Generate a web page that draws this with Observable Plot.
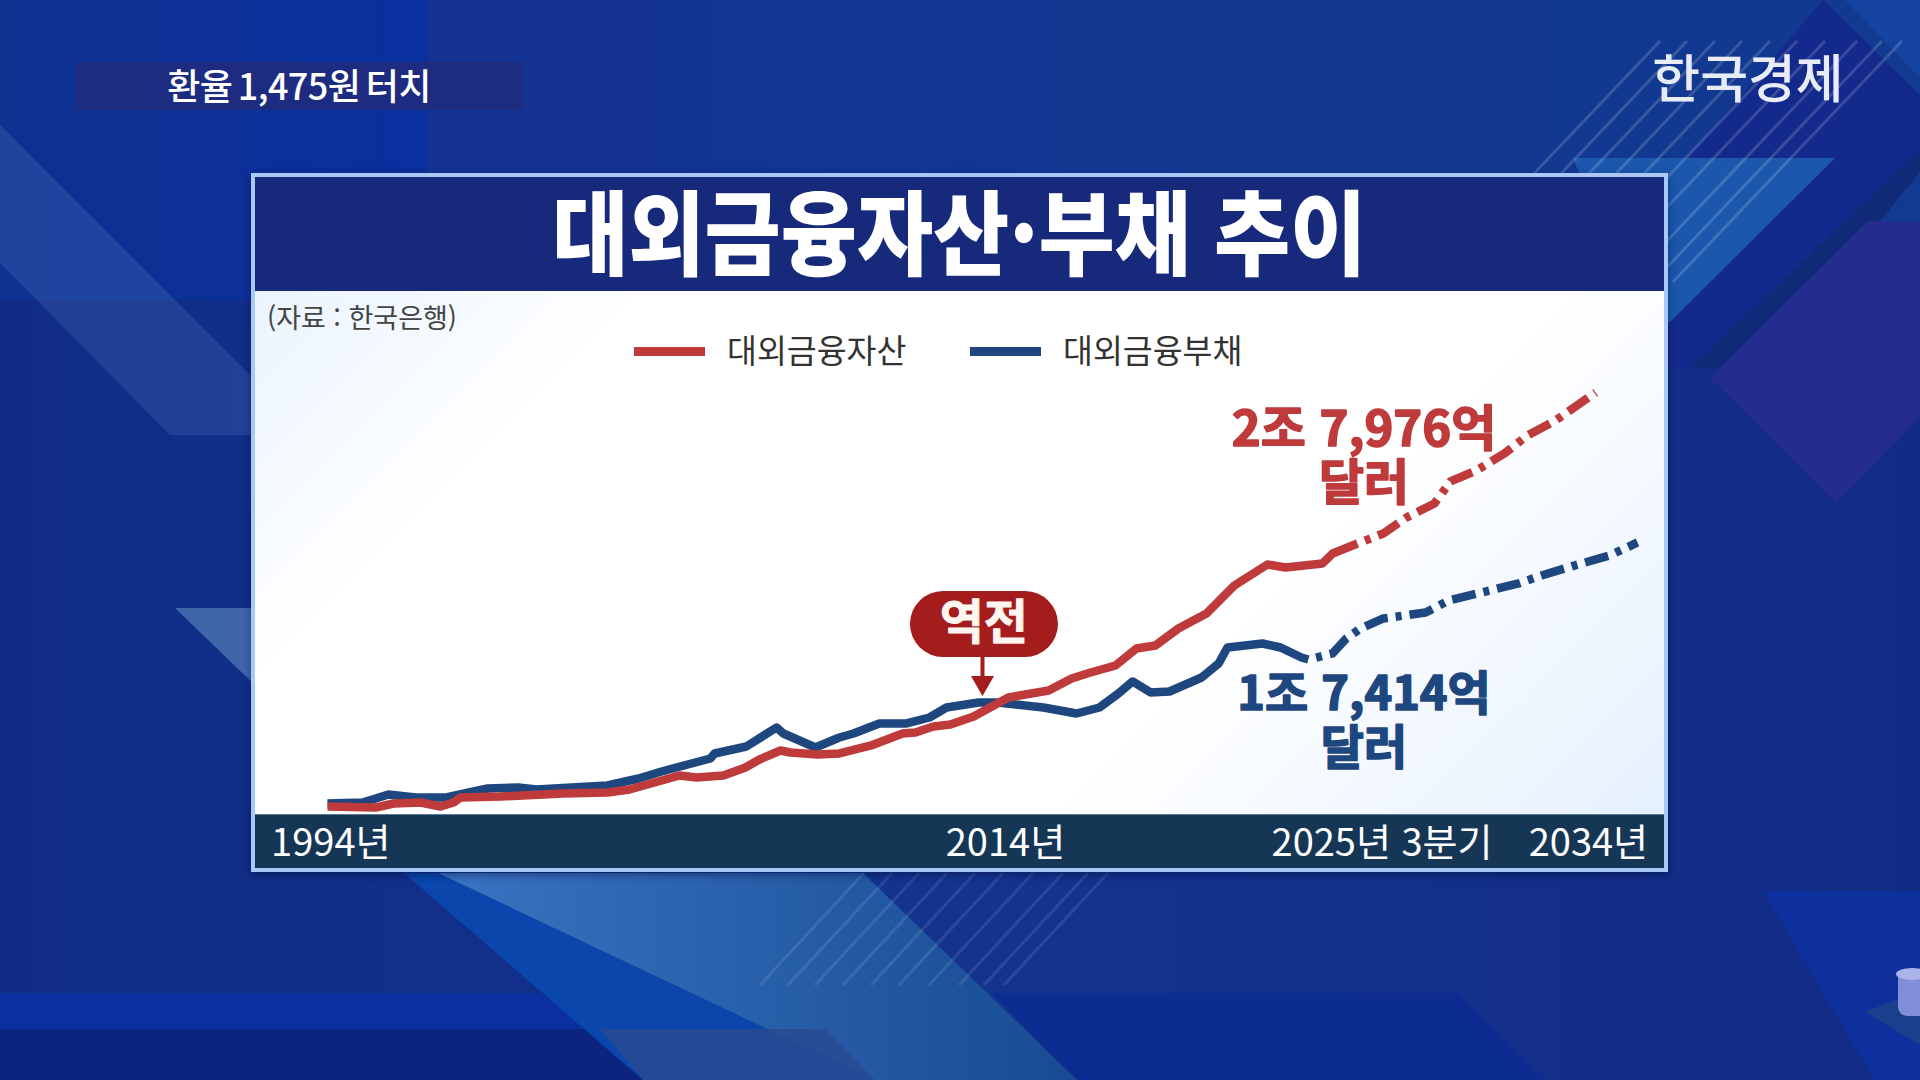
<!DOCTYPE html>
<html lang="ko">
<head>
<meta charset="utf-8">
<title>대외금융자산·부채 추이</title>
<script src="https://cdn.jsdelivr.net/npm/d3@7"></script>
<script src="https://cdn.jsdelivr.net/npm/@observablehq/plot@0.6"></script>
<style>
  html,body{margin:0;padding:0;background:#122d87;font-family:"Noto Sans CJK KR","Noto Sans",sans-serif;}
  #stage{position:relative;width:1920px;height:1080px;overflow:hidden;}
  #stage>*{position:absolute;}
  #bg{left:0;top:0;}
  #topbar{left:75px;top:62px;width:448px;height:48px;background:#1d2b80;color:#fff;font-size:36px;font-weight:500;line-height:45px;text-align:center;white-space:nowrap;letter-spacing:-.6px;word-spacing:-4px;}
  #logo{left:1648px;top:41px;width:200px;color:#e8ecf8;font-size:52px;font-weight:500;line-height:70px;text-align:center;white-space:nowrap;}
  #panel{left:251px;top:173px;width:1409px;height:691px;border:4px solid #a9c9f4;background:linear-gradient(135deg,#e4f0ff 0,#ffffff 24%,#ffffff 68%,#e3efff 100%);box-shadow:0 3px 8px rgba(0,10,60,.45);}
  #titleband{position:absolute;left:0;top:0;width:100%;height:114px;background:#17297a;color:#fff;text-align:center;}
  #titleband span{display:inline-block;font-size:92px;font-weight:900;line-height:102px;transform:scaleX(.9);white-space:nowrap;}
  #axisband{position:absolute;left:0;bottom:0;width:100%;height:54px;background:#163655;border-top:1px solid #5d7a96;box-sizing:border-box;}
  #source{position:absolute;left:12px;top:123px;color:#444;font-size:27px;line-height:34px;white-space:nowrap;}
  .swatch{position:absolute;top:170px;width:71px;height:9px;}
  .legendtext{position:absolute;top:150px;color:#333;font-size:32.5px;line-height:44px;white-space:nowrap;}
  #chart{left:255px;top:291px;}
  #chart svg{display:block;font-family:"Noto Sans CJK KR","Noto Sans",sans-serif;}
</style>
</head>
<body>
<div id="stage">
  <svg id="bg" width="1920" height="1080" viewBox="0 0 1920 1080">
    <defs>
      <linearGradient id="base" x1="0" y1="0" x2="1" y2="0">
        <stop offset="0" stop-color="#102c86"/><stop offset=".5" stop-color="#14338f"/><stop offset="1" stop-color="#122c86"/>
      </linearGradient>
      <linearGradient id="top" x1="0" y1="0" x2="1" y2="0">
        <stop offset="0" stop-color="#153392"/><stop offset="1" stop-color="#113a90"/>
      </linearGradient>
      <linearGradient id="leftTop" x1="0" y1="0" x2="1" y2="0">
        <stop offset="0" stop-color="#0f3190"/><stop offset="1" stop-color="#0a2f9f"/>
      </linearGradient>
      <linearGradient id="beam" x1="0" y1="0" x2="1" y2="0">
        <stop offset="0" stop-color="#3a73c2"/><stop offset="1" stop-color="#174c92"/>
      </linearGradient>
    </defs>
    <rect width="1920" height="1080" fill="url(#base)"/>
    <rect x="427" y="0" width="1493" height="300" fill="url(#top)"/>
    <rect x="0" y="0" width="427" height="300" fill="url(#leftTop)"/>
    <polygon points="0,125 260,385 260,435 170,435 0,263" fill="#7fa6e0" opacity=".16"/>
    <polygon points="175,608 260,608 260,690" fill="#3f66aa"/>
    <!-- top right -->
    <polygon points="1823,0 1920,95 1920,150 1690,368 1668,368 1668,180" fill="#13298c"/>
    <polygon points="1573,158 1835,158 1670,322 1640,322" fill="#1a57ad"/>
    <polygon points="1920,150 1920,172 1760,368 1690,368" fill="#102a78"/>
    <polygon points="1868,221 1920,221 1920,417 1836,503 1710,378" fill="#252c8f"/>
    <polygon points="1845,0 1920,0 1920,78" fill="#1544a0"/>
    <g stroke="#ffffff" stroke-opacity=".16" stroke-width="3">
      <line x1="1660" y1="41" x2="1431" y2="282"/><line x1="1687" y1="41" x2="1458" y2="282"/>
      <line x1="1715" y1="41" x2="1486" y2="282"/><line x1="1742" y1="41" x2="1513" y2="282"/>
      <line x1="1770" y1="41" x2="1541" y2="282"/><line x1="1797" y1="41" x2="1568" y2="282"/>
      <line x1="1825" y1="41" x2="1596" y2="282"/><line x1="1857" y1="41" x2="1628" y2="282"/>
      <line x1="1882" y1="41" x2="1653" y2="282"/><line x1="1902" y1="41" x2="1673" y2="282"/>
    </g>
    <!-- bottom -->
    <rect x="0" y="993" width="640" height="36" fill="#0b2f9e"/>
    <rect x="0" y="1029" width="826" height="51" fill="#0c2480"/>
    <polygon points="992,993 1457,993 1543,1080 1077,1080" fill="#0d2c92"/>
    <polygon points="1763,891 1920,891 1920,1080 1874,1080" fill="#0d309c"/>
    <polygon points="404,873 438,873 875,1080 643,1080" fill="#0a46ac"/>
    <polygon points="438,873 863,873 1077,1080 875,1080" fill="url(#beam)"/>
    <polygon points="600,1029 826,1029 875,1080 643,1080" fill="#2a4a90" opacity=".8"/>
    <g stroke="#ffffff" stroke-opacity=".1" stroke-width="3">
      <line x1="864" y1="873" x2="760" y2="985"/><line x1="892" y1="873" x2="788" y2="985"/>
      <line x1="919" y1="873" x2="815" y2="985"/><line x1="947" y1="873" x2="843" y2="985"/>
      <line x1="975" y1="873" x2="871" y2="985"/><line x1="1003" y1="873" x2="899" y2="985"/>
      <line x1="1033" y1="873" x2="929" y2="985"/><line x1="1063" y1="873" x2="959" y2="985"/>
      <line x1="1088" y1="873" x2="984" y2="985"/><line x1="1108" y1="873" x2="1004" y2="985"/>
    </g>
    <!-- corner ornament -->
    <polygon points="1865,1012 1920,990 1920,1045" fill="#1b3f8c"/>
    <rect x="1898" y="970" width="30" height="46" rx="9" fill="#7f8ed6"/>
    <ellipse cx="1912" cy="974" rx="16" ry="6" fill="#aab4ea"/>
  </svg>

  <div id="topbar">환율 1,475원 터치</div>
  <div id="logo">한국경제</div>

  <div id="panel">
    <div id="titleband"><span>대외금융자산·부채 추이</span></div>
    <div id="axisband"></div>
    <div id="source">(자료 : 한국은행)</div>
    <div class="swatch" style="left:379px;background:#bf3a3b"></div>
    <div class="legendtext" style="left:472px">대외금융자산</div>
    <div class="swatch" style="left:715px;background:#1e4780"></div>
    <div class="legendtext" style="left:808px">대외금융부채</div>
  </div>
  <div id="chart"></div>
</div>

<script>
const assetYears = [1994.0,1995.47,1996.02,1996.84,1997.45,1997.85,1998.06,1999.28,2001.19,2002.55,2003.22,2004.75,2005.27,2006.09,2006.76,2007.19,2007.83,2008.14,2008.96,2009.63,2010.6,2011.56,2011.95,2012.5,2013.02,2013.73,2014.79,2016.02,2016.72,2017.3,2018.06,2018.7,2019.28,2019.98,2020.84,2021.69,2022.7,2023.25,2024.38,2024.69,2025.45];
const assetValues = [4034,3943,4307,4398,4034,4398,4853,4944,5217,5308,5581,6856,6674,6856,7585,8313,9132,8950,8768,8859,9588,10680,10771,11317,11500,12228,13958,14595,15688,16234,16872,18419,18693,20240,21606,24155,26068,25794,26159,27069,27979];
const assetForecastYears = [2025.45,2026.24,2026.95,2027.8,2028.29,2029.08,2029.94,2030.64,2031.5,2032.72];
const assetForecastValues = [27979,28890,30347,31622,33625,34626,36174,37813,39179,41728];

const liabilityYears = [1994.0,1995.07,1995.47,1995.86,1996.69,1997.63,1998.18,1998.89,1999.83,2000.38,2001.45,2002.55,2003.5,2004.2,2005.69,2005.82,2006.79,2007.71,2007.92,2008.9,2009.63,2010.06,2010.85,2011.68,2012.38,2012.9,2013.88,2014.46,2015.86,2016.87,2017.57,2018.15,2018.58,2019.13,2019.71,2020.69,2021.21,2021.48,2022.55,2023.1,2023.74,2023.95];
const liabilityValues = [4307,4398,4762,5126,4853,4853,5217,5672,5763,5581,5763,5946,6583,7220,8404,8859,9497,11226,10680,9405,10316,10680,11591,11591,12137,13047,13503,13503,13047,12501,13047,14322,15415,14413,14504,15779,17054,18510,18875,18510,17600,17418];
const liabilityForecastYears = [2023.95,2024.69,2025.11,2025.54,2026.24,2027.53,2028.23,2029.24,2030.37,2031.07,2032.08,2033.15,2034.0];
const liabilityForecastValues = [17418,17964,19330,20240,21151,21697,22790,23518,24338,25066,25977,26887,28071];

const tickYears = [1994.1,2014.7,2026.2,2032.5];
const tickLabels = ["1994년","2014년","2025년 3분기","2034년"];

const assetLabel = "2조 7,976억\n달러";
const liabilityLabel = "1조 7,414억\n달러";
const crossLabel = "역전";
const crossYear = 2014;

const rows = (xs, ys) => xs.map((year, i) => ({year, value: ys[i]}));
const RED = "#bf3a3b", BLUE = "#1e4780", PILL = "#a51c1c";
const DASH = "24,8,6,8";
const lineStyle = {x: "year", y: "value", strokeWidth: 8.5, strokeLinejoin: "round", strokeLinecap: "butt"};

const chart = Plot.plot({
  width: 1409, height: 577,
  marginTop: 0, marginRight: 0, marginBottom: 54, marginLeft: 0,
  x: {domain: [1994, 2034], range: [72, 1382], axis: null},
  y: {domain: [0, 50000], range: [559.3, 10.1], axis: null},
  style: {background: "transparent", color: "#ffffff", fontFamily: '"Noto Sans CJK KR","Noto Sans",sans-serif'},
  marks: [
    Plot.axisX({ticks: tickYears, tickFormat: d => tickLabels[tickYears.indexOf(d)], tickSize: 0, tickPadding: 15, fontSize: 38, lineAnchor: "top", label: null}),
    Plot.line(rows(liabilityYears, liabilityValues), {...lineStyle, stroke: BLUE}),
    Plot.line(rows(liabilityForecastYears, liabilityForecastValues), {...lineStyle, stroke: BLUE, strokeDasharray: DASH, strokeDashoffset: 24}),
    Plot.line(rows(assetYears, assetValues), {...lineStyle, stroke: RED}),
    Plot.line(rows(assetForecastYears, assetForecastValues), {...lineStyle, stroke: RED, strokeDasharray: DASH, strokeDashoffset: 24}),
    Plot.ruleX([crossYear], {y1: 17600, y2: 15400, stroke: PILL, strokeWidth: 4}),
    Plot.dot([crossYear], {x: d => d, y: () => 15300, symbol: "triangle2", rotate: 180, r: 11, fill: PILL}),
    Plot.rect([crossYear], {x1: () => 2011.8, x2: () => 2016.32, y1: () => 17600, y2: () => 23609, rx: 33, fill: PILL}),
    Plot.text([crossLabel], {x: () => 2014.04, y: () => 20700, text: d => d, fill: "#fff6f2", fontSize: 48, fontWeight: 700, stroke: "#fff6f2", strokeWidth: .8}),
    Plot.text([assetLabel], {x: () => 2025.65, y: () => 36000, text: d => d, fill: RED, fontSize: 49, lineHeight: 1.12, fontWeight: 700, stroke: RED, strokeWidth: 1.6}),
    Plot.text([liabilityLabel], {x: () => 2025.65, y: () => 11900, text: d => d, fill: BLUE, fontSize: 47, lineHeight: 1.15, fontWeight: 700, stroke: BLUE, strokeWidth: 1.6})
  ]
});
document.getElementById("chart").appendChild(chart);
</script>
</body>
</html>
